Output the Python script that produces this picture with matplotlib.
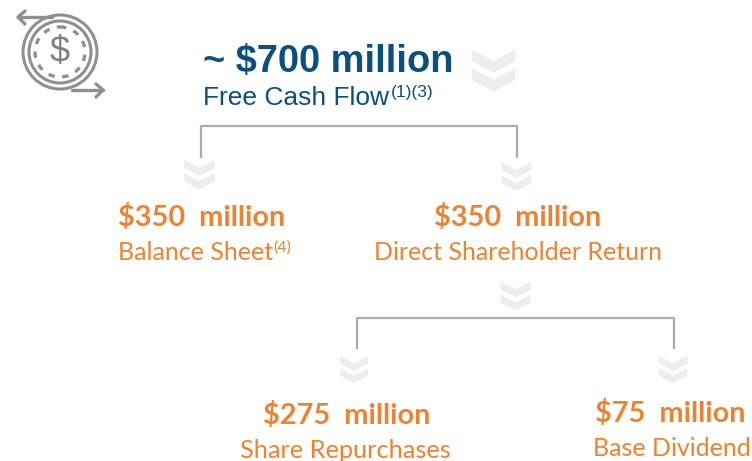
import numpy as np
import matplotlib
matplotlib.use("Agg")
import matplotlib.pyplot as plt
from matplotlib.patches import Polygon, Circle

W, H = 752, 461
NAVY = "#0B4F80"
ORANGE = "#EE8233"
LINE = "#ABABAB"
CHEV = "#EDEDED"
ICON = "#8F8F8F"

top_amount = "~ $700 million"
top_label = "Free Cash Flow"
top_notes = "(1)(3)"
amounts = ["$350  million", "$350  million", "$275  million", "$75  million"]
labels = ["Balance Sheet", "Direct Shareholder Return", "Share Repurchases", "Base Dividend"]
label_notes = ["(4)", "", "", ""]
amount_pos = [(202, 217), (518, 217), (347, 415), (670, 413)]
label_pos = [(118, 252), (374, 252), (240, 450), (593, 448)]
label_sizes = [18, 18, 18.3, 18]
brackets = [(201, 517, 126, 158), (357, 674, 318, 349)]
chevrons = [(493.5, 70.5, 1.45), (199.5, 174.5, 1.03), (516.5, 176.5, 1.0),
            (515.5, 296, 1.0), (354, 369.5, 0.93), (673, 369.5, 0.95)]

fig = plt.figure(figsize=(W / 100, H / 100), dpi=100)
ax = fig.add_axes([0, 0, 1, 1])
ax.set_xlim(0, W)
ax.set_ylim(H, 0)
ax.axis("off")


def chevron(cx, cy, s):
    for top in (-14.5, -1.5):
        y = cy + top * s
        hw, n, t = 15 * s, 8 * s, 8 * s
        pts = [(cx - hw, y), (cx, y + n), (cx + hw, y),
               (cx + hw, y + t), (cx, y + n + t), (cx - hw, y + t)]
        ax.add_patch(Polygon(pts, closed=True, fc=CHEV, ec="none", zorder=1))


for c in chevrons:
    chevron(*c)

for x0, x1, ytop, ybot in brackets:
    ax.plot([x0, x0, x1, x1], [ybot, ytop, ytop, ybot], color=LINE, lw=1.6,
            solid_joinstyle="round", solid_capstyle="butt", zorder=2)

# coin icon
cx, cy = 60, 52
ax.add_patch(Circle((cx, cy), 37, fc="none", ec=ICON, lw=2.2))
ax.add_patch(Circle((cx, cy), 31, fc="none", ec=ICON, lw=2.2))
ax.add_patch(Circle((cx, cy), 25, fc="none", ec=ICON, lw=2.4, ls=(0, (1.9, 2.3))))
ax.text(cx, cy + 1, "$", color="#7F7F7F", fontsize=26, ha="center", va="center",
        family="Liberation Sans")
ax.plot([18, 52], [17, 17], color=ICON, lw=2.4, solid_capstyle="round")
ax.plot([25, 18, 25], [11, 17, 24], color=ICON, lw=2.4, solid_capstyle="round", solid_joinstyle="round")
ax.plot([72, 103], [90, 90], color=ICON, lw=2.4, solid_capstyle="round")
ax.plot([96, 103, 96], [84, 90, 97], color=ICON, lw=2.4, solid_capstyle="round", solid_joinstyle="round")

ax.text(203, 62, top_amount, color=NAVY, fontsize=27.4, fontweight="bold",
        family="Liberation Sans", ha="left", va="center")
ax.text(203, 98, top_label, color=NAVY, fontsize=19, family="Liberation Sans",
        ha="left", va="center")
ax.text(391, 92, top_notes, color=NAVY, fontsize=12.5, family="Liberation Sans",
        ha="left", va="center")

for (x, y), t in zip(amount_pos, amounts):
    ax.text(x, y, t, color=ORANGE, fontsize=20.8, fontweight="bold", family="Lato",
            ha="center", va="center")
for (x, y), t, n, fs in zip(label_pos, labels, label_notes, label_sizes):
    ax.text(x, y, t, color=ORANGE, fontsize=fs, family="Lato", ha="left", va="center")
    if n:
        ax.text(273, y - 4, n, color=ORANGE, fontsize=11.5, family="Lato",
                ha="left", va="center")

fig.savefig("out.png", dpi=100)
